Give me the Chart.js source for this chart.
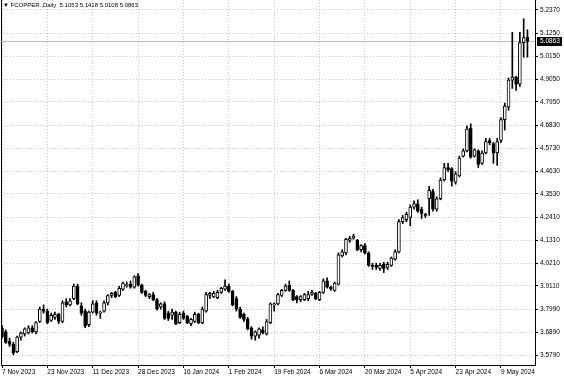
<!DOCTYPE html>
<html>
<head>
<meta charset="utf-8">
<script src="https://cdn.jsdelivr.net/npm/chart.js@4.4.1/dist/chart.umd.min.js"></script>
<style>
  html, body { margin: 0; padding: 0; background: #fff; }
  #wrap { position: relative; width: 564px; height: 376px; }
  #header {
    position: absolute; left: 3px; top: 2px;
    font: 6px 'Liberation Sans', Arial, sans-serif;
    color: #000; white-space: pre;
  }
</style>
</head>
<body>
<div id="wrap">
  <canvas id="chart" width="564" height="376"></canvas>
  <div id="header">▼ FCOPPER.,Daily  5.1053 5.1418 5.0108 5.0863</div>
</div>
<script>
// date labels along the bottom and the bar index they sit on
const xTickLabels = ['7 Nov 2023', '23 Nov 2023', '11 Dec 2023', '28 Dec 2023', '16 Jan 2024', '1 Feb 2024',
  '19 Feb 2024', '6 Mar 2024', '20 Mar 2024', '5 Apr 2024', '23 Apr 2024', '9 May 2024'];
const xTickIndex = [0, 12, 24, 36, 48, 60, 72, 84, 96, 108, 120, 132];

// price scale labels
const yTickValues = [3.579, 3.689, 3.799, 3.911, 4.021, 4.131, 4.241, 4.353,
  4.463, 4.573, 4.683, 4.795, 4.905, 5.015, 5.125, 5.237];

// daily OHLC
const opens = [
  3.709, 3.690, 3.645, 3.630, 3.595, 3.665, 3.680, 3.685, 3.710, 3.690,
  3.740, 3.800, 3.790, 3.745, 3.760, 3.775, 3.740, 3.835, 3.820, 3.850,
  3.910, 3.815, 3.790, 3.725, 3.785, 3.830, 3.780, 3.790, 3.830, 3.865,
  3.880, 3.865, 3.895, 3.912, 3.920, 3.905, 3.960, 3.915, 3.885, 3.860,
  3.870, 3.845, 3.810, 3.825, 3.780, 3.770, 3.785, 3.735, 3.780, 3.765,
  3.730, 3.740, 3.775, 3.735, 3.790, 3.865, 3.860, 3.855, 3.880, 3.895,
  3.910, 3.885, 3.850, 3.800, 3.775, 3.750, 3.710, 3.670, 3.675, 3.700,
  3.680, 3.735, 3.820, 3.825, 3.865, 3.890, 3.915, 3.890, 3.860, 3.845,
  3.845, 3.850, 3.870, 3.875, 3.845, 3.880, 3.935, 3.905, 3.890, 3.920,
  4.055, 4.070, 4.130, 4.140, 4.130, 4.085, 4.105, 4.070, 4.010, 4.010,
  3.995, 4.015, 4.000, 4.010, 4.040, 4.075, 4.220, 4.230, 4.240, 4.290,
  4.305, 4.280, 4.255, 4.330, 4.365, 4.280, 4.330, 4.420, 4.480, 4.475,
  4.410, 4.440, 4.535, 4.560, 4.670, 4.535, 4.560, 4.500, 4.550, 4.610,
  4.595, 4.550, 4.610, 4.710, 4.770, 4.900, 4.915, 4.880, 5.080, 5.1053];
const highs = [
  3.720, 3.700, 3.660, 3.640, 3.670, 3.690, 3.710, 3.720, 3.720, 3.740,
  3.810, 3.820, 3.800, 3.780, 3.785, 3.780, 3.840, 3.850, 3.850, 3.920,
  3.920, 3.830, 3.800, 3.790, 3.840, 3.840, 3.790, 3.840, 3.870, 3.880,
  3.885, 3.910, 3.930, 3.930, 3.935, 3.960, 3.970, 3.920, 3.890, 3.875,
  3.880, 3.850, 3.830, 3.835, 3.790, 3.800, 3.790, 3.785, 3.790, 3.770,
  3.755, 3.785, 3.780, 3.810, 3.880, 3.880, 3.885, 3.890, 3.905, 3.940,
  3.920, 3.890, 3.860, 3.810, 3.780, 3.760, 3.715, 3.695, 3.710, 3.715,
  3.750, 3.830, 3.830, 3.875, 3.895, 3.920, 3.935, 3.895, 3.865, 3.865,
  3.875, 3.885, 3.890, 3.880, 3.885, 3.945, 3.950, 3.910, 3.930, 4.070,
  4.085, 4.140, 4.150, 4.160, 4.135, 4.110, 4.115, 4.075, 4.020, 4.020,
  4.020, 4.025, 4.025, 4.050, 4.085, 4.230, 4.250, 4.265, 4.300, 4.320,
  4.325, 4.290, 4.260, 4.390, 4.375, 4.340, 4.430, 4.500, 4.500, 4.480,
  4.460, 4.535, 4.570, 4.680, 4.690, 4.570, 4.565, 4.560, 4.620, 4.620,
  4.600, 4.620, 4.720, 4.790, 4.910, 5.130, 4.920, 5.130, 5.195, 5.1418];
const lows = [
  3.660, 3.635, 3.620, 3.580, 3.590, 3.650, 3.670, 3.680, 3.685, 3.680,
  3.735, 3.780, 3.730, 3.740, 3.750, 3.730, 3.735, 3.810, 3.815, 3.845,
  3.820, 3.770, 3.710, 3.715, 3.780, 3.770, 3.755, 3.785, 3.820, 3.855,
  3.855, 3.860, 3.890, 3.905, 3.900, 3.900, 3.910, 3.875, 3.860, 3.850,
  3.840, 3.795, 3.800, 3.750, 3.745, 3.750, 3.725, 3.730, 3.750, 3.730,
  3.720, 3.735, 3.730, 3.730, 3.785, 3.850, 3.855, 3.850, 3.875, 3.890,
  3.880, 3.815, 3.790, 3.755, 3.740, 3.700, 3.655, 3.650, 3.660, 3.680,
  3.675, 3.730, 3.790, 3.820, 3.860, 3.885, 3.885, 3.840, 3.830, 3.835,
  3.840, 3.840, 3.865, 3.845, 3.840, 3.875, 3.900, 3.890, 3.885, 3.915,
  4.050, 4.060, 4.120, 4.135, 4.080, 4.075, 4.065, 4.005, 3.990, 3.990,
  3.985, 3.975, 3.990, 4.005, 4.035, 4.070, 4.210, 4.220, 4.200, 4.280,
  4.265, 4.235, 4.240, 4.250, 4.270, 4.270, 4.325, 4.415, 4.460, 4.390,
  4.400, 4.435, 4.530, 4.555, 4.525, 4.530, 4.480, 4.495, 4.545, 4.590,
  4.500, 4.490, 4.600, 4.660, 4.755, 4.860, 4.850, 4.870, 5.010, 5.0108];
const closes = [
  3.666, 3.640, 3.630, 3.590, 3.665, 3.685, 3.705, 3.710, 3.690, 3.735,
  3.800, 3.790, 3.735, 3.770, 3.775, 3.740, 3.830, 3.820, 3.840, 3.910,
  3.825, 3.780, 3.720, 3.785, 3.825, 3.780, 3.785, 3.830, 3.865, 3.875,
  3.860, 3.900, 3.925, 3.918, 3.905, 3.955, 3.915, 3.880, 3.865, 3.870,
  3.845, 3.800, 3.825, 3.755, 3.755, 3.785, 3.730, 3.775, 3.755, 3.735,
  3.750, 3.775, 3.735, 3.800, 3.870, 3.875, 3.875, 3.880, 3.900, 3.910,
  3.885, 3.820, 3.800, 3.760, 3.750, 3.705, 3.670, 3.690, 3.705, 3.685,
  3.740, 3.825, 3.825, 3.870, 3.890, 3.910, 3.890, 3.845, 3.845, 3.860,
  3.870, 3.870, 3.880, 3.850, 3.880, 3.935, 3.905, 3.895, 3.925, 4.060,
  4.075, 4.135, 4.140, 4.150, 4.085, 4.105, 4.070, 4.010, 4.005, 4.000,
  4.010, 3.995, 4.015, 4.045, 4.075, 4.220, 4.240, 4.255, 4.290, 4.305,
  4.270, 4.260, 4.250, 4.370, 4.280, 4.330, 4.420, 4.480, 4.470, 4.415,
  4.450, 4.525, 4.560, 4.665, 4.530, 4.565, 4.495, 4.550, 4.605, 4.600,
  4.550, 4.605, 4.710, 4.775, 4.900, 4.915, 4.880, 5.080, 5.105, 5.0863];

const lastClose = closes[closes.length - 1];
const axisFont = { family: "'Liberation Sans', Arial, sans-serif", size: 6.5 };
const gridColor = '#c8c8c8';

// wicks are thin floating bars low..high, bodies are floating bars open..close
const wickData = lows.map((l, i) => ({ x: i, y: [l, highs[i]] }));
const bodyData = opens.map((o, i) => ({ x: i, y: [o, closes[i]] }));
const bodyFill = opens.map((o, i) => (closes[i] >= o ? '#ffffff' : '#000000'));

// left frame, last price line and price tag
const overlay = {
  id: 'overlay',
  beforeDatasetsDraw(chart) {
    const { ctx, chartArea, scales } = chart;
    const py = Math.round(scales.y.getPixelForValue(lastClose)) + 0.5;
    ctx.save();
    ctx.lineWidth = 1;
    ctx.strokeStyle = '#000';
    ctx.beginPath();
    ctx.moveTo(chartArea.left + 0.5, chartArea.top);
    ctx.lineTo(chartArea.left + 0.5, chartArea.bottom);
    ctx.stroke();
    ctx.strokeStyle = '#c0c0c0';
    ctx.beginPath();
    ctx.moveTo(chartArea.left, py);
    ctx.lineTo(chartArea.right, py);
    ctx.stroke();
    ctx.restore();
  },
  afterDraw(chart) {
    const { ctx, chartArea, scales } = chart;
    const py = Math.round(scales.y.getPixelForValue(lastClose));
    ctx.save();
    ctx.fillStyle = '#000';
    ctx.fillRect(chartArea.right + 2, py - 4, 25, 9);
    ctx.fillStyle = '#fff';
    ctx.font = "6.5px 'Liberation Sans', Arial, sans-serif";
    ctx.textBaseline = 'middle';
    ctx.fillText(lastClose.toFixed(4), chartArea.right + 5, py + 0.5);
    ctx.restore();
  },
};

const ctx = document.getElementById('chart');
const candleChart = new Chart(ctx, {
  type: 'bar',
  data: {
    datasets: [
      {
        label: 'wick',
        data: wickData,
        backgroundColor: '#000',
        barThickness: 1,
        grouped: false,
        order: 2,
      },
      {
        label: 'body',
        data: bodyData,
        backgroundColor: bodyFill,
        borderColor: '#000',
        borderWidth: 1,
        borderSkipped: false,
        barThickness: 3,
        grouped: false,
        order: 1,
      },
    ],
  },
  options: {
    responsive: false,
    animation: false,
    devicePixelRatio: 1,
    layout: { padding: { left: 1, top: 0, right: 0, bottom: 0 } },
    plugins: {
      legend: { display: false },
      tooltip: { enabled: false },
    },
    scales: {
      x: {
        type: 'linear',
        min: -0.265,
        max: 141.0,
        offset: false,
        grid: { color: gridColor, offset: false, tickLength: 3, tickColor: '#000' },
        border: { color: '#000', dash: [1, 2] },
        ticks: {
          align: 'start',
          padding: 0,
          maxRotation: 0,
          autoSkip: false,
          color: '#000',
          font: axisFont,
          callback: (v) => xTickLabels[xTickIndex.indexOf(v)],
        },
        afterBuildTicks: (scale) => {
          scale.ticks = xTickIndex.map((v) => ({ value: v }));
        },
        afterFit: (scale) => {
          scale.height = 11;
          scale.paddingLeft = 0;
          scale.paddingRight = 0;
        },
      },
      y: {
        type: 'linear',
        position: 'right',
        min: 3.5311,
        max: 5.285,
        grid: { color: gridColor, tickLength: 3, tickColor: '#000' },
        border: { color: '#000', dash: [1, 2] },
        ticks: {
          padding: 2,
          color: '#000',
          font: axisFont,
          callback: (v) => v.toFixed(4),
        },
        afterBuildTicks: (scale) => {
          scale.ticks = yTickValues.map((v) => ({ value: v }));
        },
        afterFit: (scale) => {
          scale.width = 29;
          scale.paddingTop = 0;
          scale.paddingBottom = 0;
        },
      },
    },
  },
  plugins: [overlay],
});
</script>
</body>
</html>
